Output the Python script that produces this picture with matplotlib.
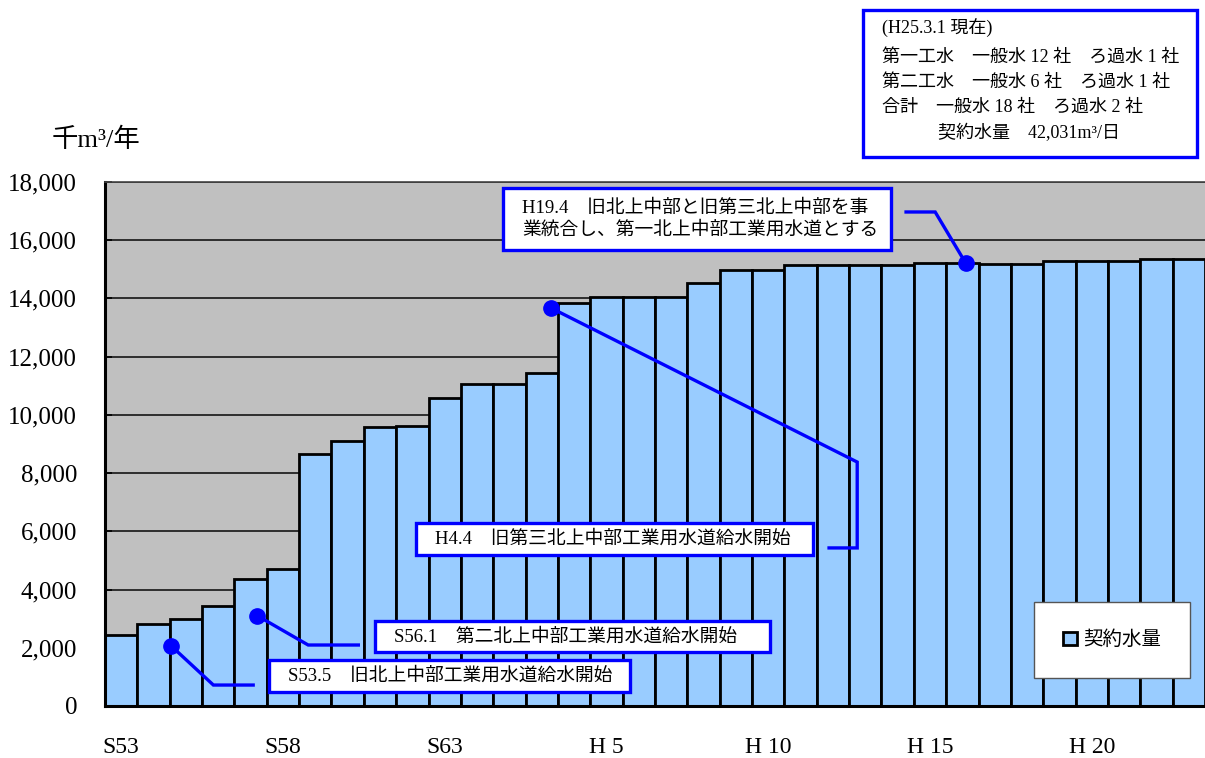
import numpy as np
import matplotlib
matplotlib.use('Agg')
import matplotlib.pyplot as plt
from matplotlib.patches import Rectangle
from matplotlib.ticker import FuncFormatter

plt.rcParams['font.family'] = ['Liberation Serif', 'Noto Sans CJK JP']

# fiscal years S53 .. H23
years  = ['S%d' % y for y in range(53, 64)] + ['H%d' % y for y in range(1, 24)]
# contracted water volume (thousand m3 / year)
volume = [2450, 2820, 3000, 3450, 4360, 4720, 8650, 9110, 9580, 9630,
          10580, 11050, 11050, 11440, 13830, 14060, 14060, 14060, 14520, 14980,
          14980, 15160, 15160, 15160, 15160, 15230, 15230, 15180, 15180, 15280,
          15280, 15280, 15341, 15341]
tick_pos    = [0, 5, 10, 15, 20, 25, 30]
tick_labels = ['S53', 'S58', 'S63', 'H 5', 'H 10', 'H 15', 'H 20']

info_lines = ['(H25.3.1 現在)',
              '第一工水　一般水 12 社　ろ過水 1 社',
              '第二工水　一般水 6 社　ろ過水 1 社',
              '合計　一般水 18 社　ろ過水 2 社']
info_total = '契約水量　42,031m³/日'

# event notes: text, leader path (x in bar index, y in value), box in pixels
notes = [
    ('H19.4　旧北上中部と旧第三北上中部を事\n業統合し、第一北上中部工業用水道とする',
     [(26.1, 15220), (25.16, 16970), (24.26, 16970)], (503, 188, 891, 250)),
    ('H4.4　旧第三北上中部工業用水道給水開始',
     [(13.29, 13670), (22.75, 8380), (22.75, 5430), (21.88, 5430)], (416, 523, 813, 555)),
    ('S56.1　第二北上中部工業用水道給水開始',
     [(4.21, 3100), (5.78, 2095), (7.33, 2095)], (375, 621, 770, 652)),
    ('S53.5　旧北上中部工業用水道給水開始',
     [(1.54, 2070), (2.85, 720), (4.08, 720)], (269, 660, 630, 692)),
]

W, H = 1205, 758
fig = plt.figure(figsize=(W / 100, H / 100), dpi=100)
ax = fig.add_axes([105 / W, 1 - 706 / H, 1100 / W, 524 / H])

x = np.arange(len(volume))
ax.bar(x, volume, width=1.0, color='#99CCFF', edgecolor='black', linewidth=2,
       label='契約水量', zorder=2)

ax.set_facecolor('#C0C0C0')
ax.set_xlim(-0.5, len(volume) - 0.5)
ax.set_ylim(0, 18000)
ax.set_yticks(range(0, 18001, 2000))
ax.yaxis.set_major_formatter(FuncFormatter(lambda v, p: '{:,}'.format(int(v))))
ax.set_xticks(tick_pos)
ax.set_xticklabels(tick_labels)
ax.tick_params(axis='y', direction='in', length=5, width=1.2, labelsize=18, pad=20)
ax.tick_params(axis='x', length=0, labelsize=17, pad=22)
ax.yaxis.grid(True, color='#222222', linewidth=1.3, zorder=1)
ax.set_axisbelow(True)
for s in ['left', 'bottom']:
    ax.spines[s].set_linewidth(2.2)
ax.spines['top'].set_color('#444444')
ax.spines['top'].set_linewidth(1.2)
ax.spines['right'].set_visible(False)

# leader lines with dots
for txt, path, box in notes:
    px = [p[0] for p in path]
    py = [p[1] for p in path]
    ax.plot(px, py, color='#0000FF', linewidth=2.4, zorder=5, solid_joinstyle='miter')
    ax.plot(px[0], py[0], 'o', color='#0000FF', markersize=11, zorder=6)

def box_px(x0, y0, x1, y1, lw=2.4, ec='#0000FF'):
    r = Rectangle((x0 / W, 1 - y1 / H), (x1 - x0) / W, (y1 - y0) / H,
                  transform=fig.transFigure, facecolor='white', edgecolor=ec,
                  linewidth=lw, zorder=4)
    fig.patches.append(r)

for txt, path, (x0, y0, x1, y1) in notes:
    box_px(x0, y0, x1, y1)
    fig.text((x0 + 19) / W, 1 - (y0 + y1) / 2 / H, txt, fontsize=13.5,
             ha='left', va='center', linespacing=1.3, zorder=7)

# info box
box_px(863, 10, 1197, 157)
for i, line in enumerate(info_lines):
    yy = [28, 57, 82, 107][i]
    fig.text(882 / W, 1 - yy / H, line, fontsize=13, ha='left', va='center', zorder=7)
fig.text(938 / W, 1 - 133 / H, info_total, fontsize=13, ha='left', va='center', zorder=7)

# unit label
fig.text(52 / W, 1 - 140 / H, '千m³/年', fontsize=19, ha='left', va='center')

leg = ax.legend(loc='center', bbox_to_anchor=(1112 / W, 1 - 640 / H),
                bbox_transform=fig.transFigure, fontsize=14, frameon=True,
                fancybox=False, framealpha=1, facecolor='white', borderpad=1.5,
                handlelength=0.7, handleheight=0.7, handletextpad=0.3)
leg.get_frame().set_edgecolor('#555555')
leg.get_frame().set_linewidth(1.0)

plt.savefig('out.png', dpi=100)
